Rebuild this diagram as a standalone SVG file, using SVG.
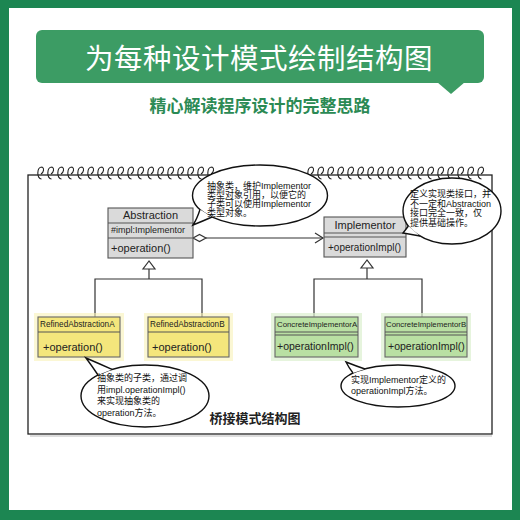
<svg xmlns="http://www.w3.org/2000/svg" xmlns:xlink="http://www.w3.org/1999/xlink" width="520" height="520" viewBox="0 0 520 520">
<style>
.cjk{font-family:"Noto Sans CJK SC","Liberation Sans",sans-serif}
.uml{font-family:"Liberation Sans","DejaVu Sans",sans-serif;fill:#222}
.note{font-family:"Liberation Sans","Noto Sans CJK SC",sans-serif;font-size:9px;fill:#111}
.line{stroke:#333;stroke-width:1.2;fill:none}
.gray{fill:#dadada;stroke:#555;stroke-width:1.1}
.yel{fill:#f4e67c;stroke:#666;stroke-width:1.1}
.grn{fill:#b9e0a3;stroke:#666;stroke-width:1.1}
.div{stroke:#555;stroke-width:1}
.bub{fill:#fff;stroke:#111;stroke-width:1.4}
</style>
<defs>
<g id="coil"><path d="M2,-6 C-3.5,-6 -3.5,6 1.5,6 M2,-6 C4.5,-5 4,-1 1,1" fill="none" stroke="#222" stroke-width="1.1"/></g>
</defs>
<rect x="0" y="0" width="520" height="520" fill="#1c8652"/>
<rect x="9" y="8" width="503" height="502" fill="#ffffff"/>
<g id="banner">
<rect x="36" y="30" width="448" height="53" rx="6" fill="#3c9c64"/>
<path d="M437,82 L465,82 L451,94 Z" fill="#3c9c64"/>
<text x="259" y="69" text-anchor="middle" class="cjk" font-size="28.5" fill="#ffffff" letter-spacing="0.5">为每种设计模式绘制结构图</text>
</g>
<text x="260" y="112" text-anchor="middle" class="cjk" font-size="17" font-weight="bold" fill="#2b8a54">精心解读程序设计的完整思路</text>
<g id="notebook">
<rect x="28" y="175" width="464" height="259" fill="#fff" stroke="#222" stroke-width="1.3"/>
<line x1="30" y1="436" x2="492" y2="436" stroke="#bbb" stroke-width="1"/>
<g id="coils">
<use xlink:href="#coil" x="40" y="173"/><use xlink:href="#coil" x="50" y="173"/><use xlink:href="#coil" x="60" y="173"/><use xlink:href="#coil" x="70" y="173"/><use xlink:href="#coil" x="80" y="173"/><use xlink:href="#coil" x="90" y="173"/><use xlink:href="#coil" x="100" y="173"/><use xlink:href="#coil" x="110" y="173"/><use xlink:href="#coil" x="120" y="173"/><use xlink:href="#coil" x="130" y="173"/><use xlink:href="#coil" x="140" y="173"/><use xlink:href="#coil" x="150" y="173"/><use xlink:href="#coil" x="160" y="173"/><use xlink:href="#coil" x="170" y="173"/><use xlink:href="#coil" x="180" y="173"/><use xlink:href="#coil" x="190" y="173"/><use xlink:href="#coil" x="200" y="173"/><use xlink:href="#coil" x="210" y="173"/>
<use xlink:href="#coil" x="310" y="173"/><use xlink:href="#coil" x="320" y="173"/><use xlink:href="#coil" x="330" y="173"/><use xlink:href="#coil" x="340" y="173"/><use xlink:href="#coil" x="350" y="173"/><use xlink:href="#coil" x="360" y="173"/><use xlink:href="#coil" x="370" y="173"/><use xlink:href="#coil" x="380" y="173"/><use xlink:href="#coil" x="390" y="173"/><use xlink:href="#coil" x="400" y="173"/><use xlink:href="#coil" x="410" y="173"/><use xlink:href="#coil" x="420" y="173"/><use xlink:href="#coil" x="430" y="173"/><use xlink:href="#coil" x="440" y="173"/><use xlink:href="#coil" x="450" y="173"/><use xlink:href="#coil" x="460" y="173"/><use xlink:href="#coil" x="470" y="173"/><use xlink:href="#coil" x="480" y="173"/>
</g>
</g>
<g id="connectors">
<line class="line" x1="206" y1="238" x2="323" y2="238"/>
<polygon points="193,238 199.5,234.5 206,238 199.5,241.5" fill="#fff" stroke="#333" stroke-width="1.2"/>
<polyline class="line" points="315,233 323,238 315,243"/>
<polygon points="149,261 143,269 155,269" fill="#fff" stroke="#333" stroke-width="1.2"/>
<polyline class="line" points="149,269 149,279"/>
<polyline class="line" points="95,317 95,279 202,279 202,317"/>
<polygon points="367,260 361,268 373,268" fill="#fff" stroke="#333" stroke-width="1.2"/>
<polyline class="line" points="367,268 367,279"/>
<polyline class="line" points="314,317 314,279 422,279 422,317"/>
</g>
<g id="abstraction">
<rect class="gray" x="108" y="208" width="85" height="50"/>
<line class="div" x1="108" y1="223" x2="193" y2="223"/>
<line class="div" x1="108" y1="238" x2="193" y2="238"/>
<text class="uml" x="150.5" y="219" font-size="11" text-anchor="middle">Abstraction</text>
<text class="uml" x="111" y="233" font-size="9">#impl:Implementor</text>
<text class="uml" x="111" y="252" font-size="11">+operation()</text>
</g>
<g id="implementor">
<rect class="gray" x="324" y="217" width="82" height="40"/>
<line class="div" x1="324" y1="233" x2="406" y2="233"/>
<line class="div" x1="324" y1="237" x2="406" y2="237"/>
<text class="uml" x="365" y="228.5" font-size="11" text-anchor="middle">Implementor</text>
<text class="uml" x="328" y="251" font-size="10">+operationImpl()</text>
</g>
<g id="refinedA">
<rect x="34" y="313" width="90" height="48" fill="#f8f2b8" opacity="0.6"/>
<rect class="yel" x="38" y="317" width="82" height="40"/>
<line class="div" x1="38" y1="332" x2="120" y2="332"/>
<text class="uml" x="40" y="327" font-size="8.2">RefinedAbstractionA</text>
<text class="uml" x="43" y="351" font-size="11">+operation()</text>
</g>
<g id="refinedB">
<rect x="144" y="313" width="89" height="48" fill="#f8f2b8" opacity="0.6"/>
<rect class="yel" x="148" y="317" width="81" height="40"/>
<line class="div" x1="148" y1="332" x2="229" y2="332"/>
<text class="uml" x="150" y="327" font-size="8.2">RefinedAbstractionB</text>
<text class="uml" x="152" y="351" font-size="11">+operation()</text>
</g>
<g id="concreteA">
<rect x="271" y="313" width="91" height="48" fill="#dcf0cf" opacity="0.7"/>
<rect class="grn" x="275" y="317" width="83" height="40"/>
<line class="div" x1="275" y1="332" x2="358" y2="332"/>
<line class="div" x1="275" y1="335" x2="358" y2="335"/>
<text class="uml" x="277" y="326.5" font-size="7.8">ConcreteImplementorA</text>
<text class="uml" x="277" y="350" font-size="10.5">+operationImpl()</text>
</g>
<g id="concreteB">
<rect x="381" y="313" width="90" height="48" fill="#dcf0cf" opacity="0.7"/>
<rect class="grn" x="385" y="317" width="82" height="40"/>
<line class="div" x1="385" y1="332" x2="467" y2="332"/>
<line class="div" x1="385" y1="335" x2="467" y2="335"/>
<text class="uml" x="386" y="326.5" font-size="7.8">ConcreteImplementorB</text>
<text class="uml" x="388" y="350" font-size="10.5">+operationImpl()</text>
</g>
<g id="note-abstraction">
<ellipse class="bub" cx="260" cy="195.5" rx="67.5" ry="30.5"/>
<path d="M200,209.5 Q197,219 193,225 Q203,221 212,217" fill="#fff" stroke="#111" stroke-width="1.4"/>
<text class="note"><tspan x="207" y="189">抽象类，维护Implementor</tspan><tspan x="207" y="198">类型对象引用，以便它的</tspan><tspan x="207" y="207">子类可以使用Implementor</tspan><tspan x="207" y="216">类型对象。</tspan></text>
</g>
<g id="note-implementor">
<ellipse class="bub" cx="452" cy="211" rx="49" ry="33"/>
<path d="M408.4,226 L403,233 L420,236" fill="#fff" stroke="#111" stroke-width="1.4"/>
<text class="note" font-size="9.5"><tspan x="410" y="197">定义实现类接口，并</tspan><tspan x="410" y="206.5">不一定和Abstraction</tspan><tspan x="410" y="216">接口完全一致，仅</tspan><tspan x="410" y="225.5">提供基础操作。</tspan></text>
</g>
<g id="note-refined">
<ellipse class="bub" cx="145" cy="396" rx="64" ry="31"/>
<path d="M98,375 Q92,366 86,358 Q100,364 112,369.4" fill="#fff" stroke="#111" stroke-width="1.4"/>
<text class="note"><tspan x="97" y="381">抽象类的子类，通过调</tspan><tspan x="97" y="392.5">用impl.operationImpl()</tspan><tspan x="97" y="404">来实现抽象类的</tspan><tspan x="97" y="416">operation方法。</tspan></text>
</g>
<g id="note-concrete">
<ellipse class="bub" cx="398" cy="386" rx="57" ry="21"/>
<path d="M353,373 Q349,368 346,362 Q356,366 365,369" fill="#fff" stroke="#111" stroke-width="1.4"/>
<text class="note" font-size="9.5"><tspan x="351" y="383">实现Implementor定义的</tspan><tspan x="351" y="394">operationImpl方法。</tspan></text>
</g>
<text x="255" y="423" text-anchor="middle" class="cjk" font-size="13" font-weight="bold" fill="#222">桥接模式结构图</text>
</svg>
